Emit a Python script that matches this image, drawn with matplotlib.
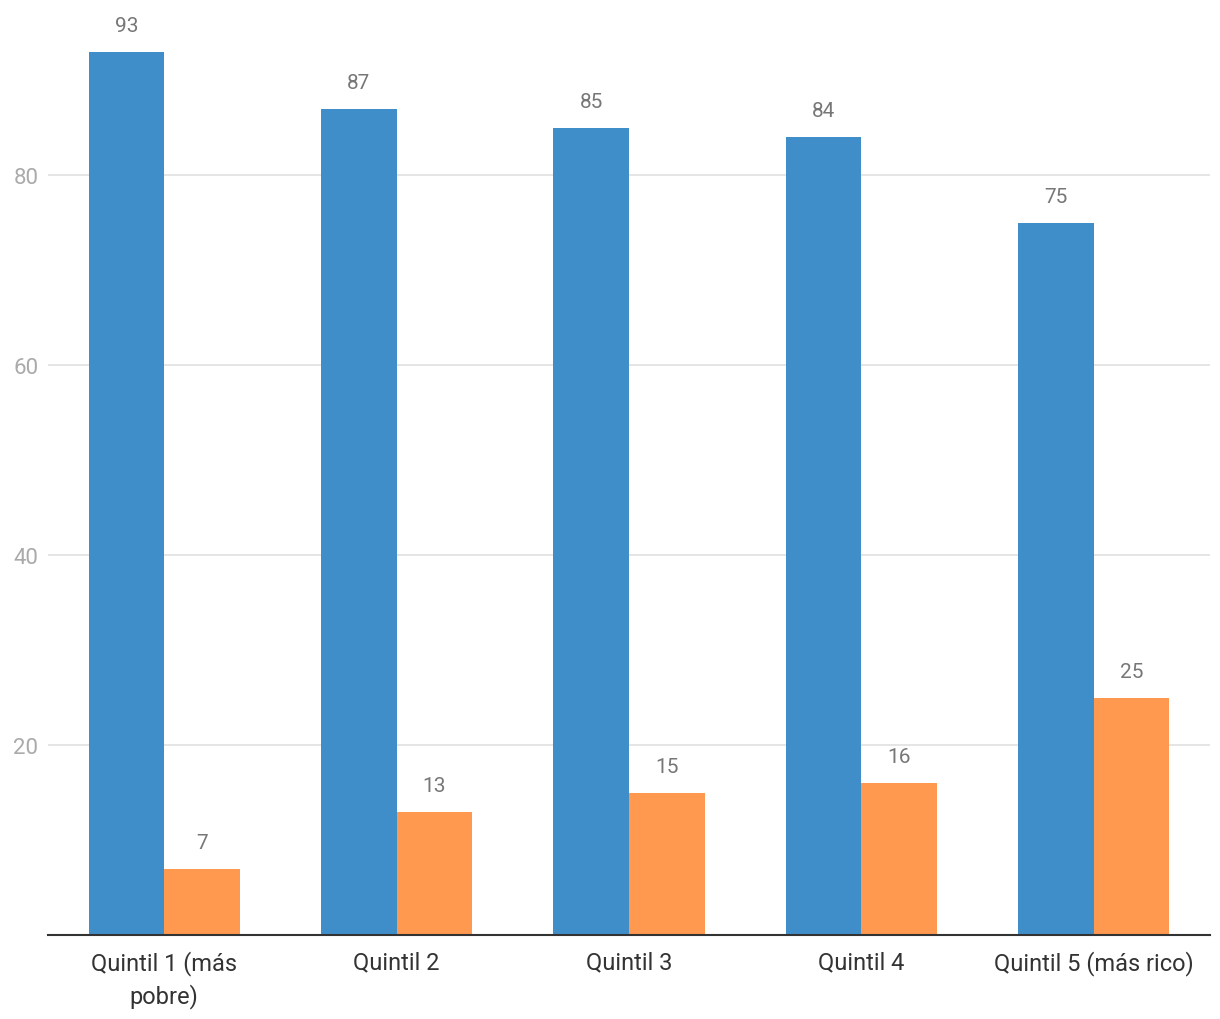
import matplotlib
matplotlib.use('Agg')
import matplotlib.pyplot as plt
import numpy as np

categories = ['Quintil 1 (más\npobre)', 'Quintil 2', 'Quintil 3', 'Quintil 4', 'Quintil 5 (más rico)']
blue_vals = [93, 87, 85, 84, 75]
orange_vals = [7, 13, 15, 16, 25]

blue = '#408ec9'
orange = '#ff994f'

plt.rcParams['font.family'] = ['Roboto', 'DejaVu Sans']

fig = plt.figure(figsize=(12.2, 10.2), dpi=100)
ax = fig.add_axes([48/1220, 84/1020, 1162/1220, 936/1020])

x = np.arange(len(categories))
w = 0.325
b1 = ax.bar(x - w/2, blue_vals, w, color=blue, zorder=2)
b2 = ax.bar(x + w/2, orange_vals, w, color=orange, zorder=2)

# value labels above each bar
for bars, vals in [(b1, blue_vals), (b2, orange_vals)]:
    for r, v in zip(bars, vals):
        ax.annotate(str(v), (r.get_x() + r.get_width()/2, v), xytext=(0, 12),
                    textcoords='offset points', ha='center', va='bottom',
                    fontsize=15, color='#777777')

ax.set_xlim(-0.5, len(categories) - 0.5)
ax.set_ylim(0, 936/9.5)
ax.set_yticks([20, 40, 60, 80])
ax.yaxis.grid(True, color='#e3e3e3', linewidth=1.3, zorder=0)
ax.set_axisbelow(True)

for s in ['top', 'right', 'left']:
    ax.spines[s].set_visible(False)
ax.spines['bottom'].set_color('#333333')
ax.spines['bottom'].set_linewidth(1.5)

ax.set_xticks(x)
ax.set_xticklabels(categories, fontsize=17, color='#333333', linespacing=1.4)
ax.tick_params(axis='x', length=0, pad=11)
ax.tick_params(axis='y', length=0, pad=7, labelsize=16, labelcolor='#aaaaaa')

fig.savefig('out.png', dpi=100)
